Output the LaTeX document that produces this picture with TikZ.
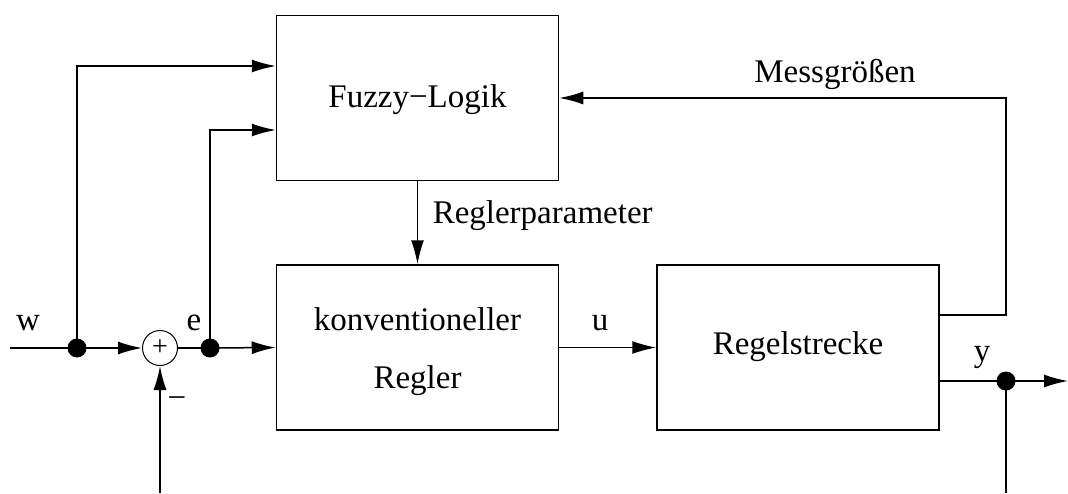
\documentclass[tikz,border=0pt]{standalone}
\usepackage{fontspec}
\setmainfont{Liberation Serif}
\usetikzlibrary{arrows.meta}
\begin{document}
\begin{tikzpicture}[x=1pt,y=-1pt,
  line width=1.5pt,
  box/.style={draw, line width=1.5pt, minimum width=282pt, minimum height=165pt, inner sep=0pt},
  arr/.style={-{Latex[length=24pt,width=13pt]}},
  dot/.style={circle, fill=black, minimum size=19pt, inner sep=0pt},
  lbl/.style={font=\fontsize{33}{40}\selectfont, inner sep=0pt},
  sumnode/.style={circle, draw, line width=1pt, minimum size=35pt, inner sep=0pt, font=\fontsize{28}{32}\selectfont}
]
\useasboundingbox (0,0) rectangle (1068,493);
% blocks
\node[box] (fuzzy) at (417.5,98) {};
\node[box] (regler) at (417.5,347.5) {};
\node[box] (strecke) at (798,347.5) {};
\node[lbl, anchor=base] (tfuzzy) at (417.5,107) {Fuzzy−Logik};
\node[lbl, anchor=base] (treg1) at (417.5,330) {konventioneller};
\node[lbl, anchor=base] (treg2) at (417.5,388) {Regler};
\node[lbl, anchor=base] (tstr) at (798,354) {Regelstrecke};
% junctions
\node[sumnode] (sum) at (160,348) {+};
\node[dot] (wdot) at (77,348) {};
\node[dot] (edot) at (210,348) {};
\node[dot] (ydot) at (1006,381) {};
\coordinate (win) at (10,348);
\coordinate (mcorner) at (1006,98);
\coordinate (yend) at (1068,381);
\coordinate (ybot) at (1006,493);
\coordinate (fbot) at (160,493);
% connectors
\draw (win) -- (wdot.center);
\draw[arr] (wdot.center) -- (sum.west);
\draw[arr] (wdot.center) |- ([yshift=32pt]fuzzy.west);
\draw (sum.east) -- (edot.center);
\draw[arr] (edot.center) |- ([yshift=-32pt]fuzzy.west);
\draw[arr] (edot.center) -- (regler.west);
\draw[arr] (fuzzy.south) -- (regler.north);
\draw[arr] (regler.east) -- (strecke.west);
\draw[arr] ([yshift=32.5pt]strecke.east) -| (mcorner) -- (fuzzy.east);
\draw ([yshift=-33.5pt]strecke.east) -- (ydot.center);
\draw[arr] (ydot.center) -- (yend);
\draw (ydot.center) -- (ybot);
\draw[arr] (fbot) -- (sum.south);
% labels
\node[lbl, anchor=base] (lw) at (28,330) {w};
\node[lbl, anchor=base] (le) at (194,330) {e};
\node[lbl, anchor=base] (lu) at (600,330) {u};
\node[lbl, anchor=base] (ly) at (982,361) {y};
\node[lbl] (lminus) at (177,403) {−};
\node[lbl, anchor=base] (lmess) at (835,82) {Messgrößen};
\node[lbl, anchor=base west] (lpar) at (432,223) {Reglerparameter};
\end{tikzpicture}
\end{document}
